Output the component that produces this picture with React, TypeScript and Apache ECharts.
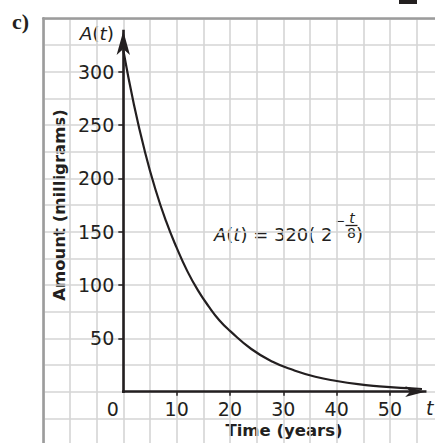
import React, { useEffect, useRef } from 'react';
import * as echarts from 'echarts';

// Decay of a 320 mg sample, half-life 8 years
const years = [0, 2, 4, 6, 8, 10, 12, 14, 16, 18, 20, 24, 28, 32, 36, 40, 44, 48, 52, 56];
const amounts = [320, 269, 226, 190, 160, 135, 113, 95, 80, 67, 57, 40, 28, 20, 14, 10, 7, 5, 3.5, 2.5];

const timeLabels = [0, 10, 20, 30, 40, 50];
const timeTickMarks = [10, 20, 30, 40, 50];
const amountLabels = [50, 100, 150, 200, 250, 300];

// axis arrow end points (data units)
const timeAxisEnd = 56.6;
const amountAxisEnd = 338;

const INK = '#231f20';
const FONT = '"DejaVu Sans", sans-serif';
const GRID_LINE = '#d5d5d5';
const BORDER = '#9c9c9c';

// plot area: t from -15 to 60, A from -50 to 350
const GRID_LEFT = 43.3;
const GRID_TOP = 18.3;
const GRID_RIGHT = -8.3;
const GRID_BOTTOM = -2;
const PLOT_W = 435 - GRID_LEFT - GRID_RIGHT;
const PLOT_H = 443 - GRID_TOP - GRID_BOTTOM;
const T_MIN = -15;
const T_MAX = 60;
const A_MIN = -50;
const A_MAX = 350;
// shift the labelled axes from the plot edges onto the origin
const xAxisShift = -(PLOT_H * (0 - A_MIN)) / (A_MAX - A_MIN);
const yAxisShift = -(PLOT_W * (0 - T_MIN)) / (T_MAX - T_MIN);

export default function App() {
  const ref = useRef<HTMLDivElement>(null);

  useEffect(() => {
    const chart = echarts.init(ref.current!, null, { renderer: 'svg' });
    const option: any = {
      animation: false,
      backgroundColor: '#ffffff',
      grid: {
        left: GRID_LEFT,
        top: GRID_TOP,
        right: GRID_RIGHT,
        bottom: GRID_BOTTOM,
        containLabel: false,
        outerBoundsMode: 'none',
      },
      xAxis: [
        {
          type: 'value',
          position: 'top',
          min: T_MIN,
          max: T_MAX,
          interval: 5,
          axisLine: { show: true, onZero: false, lineStyle: { color: BORDER, width: 2.6 } },
          axisTick: { show: false },
          axisLabel: { show: false },
          splitLine: { show: true, lineStyle: { color: GRID_LINE, width: 1.6 } },
        },
        {
          type: 'value',
          position: 'bottom',
          offset: xAxisShift,
          min: T_MIN,
          max: T_MAX,
          // the visible axis is drawn by the arrow markLine; this one only carries ticks and labels
          axisLine: { show: false, onZero: false },
          axisTick: {
            show: true,
            customValues: timeTickMarks,
            length: 4,
            lineStyle: { color: INK, width: 1.5 },
          },
          axisLabel: {
            show: true,
            customValues: timeLabels,
            margin: 8,
            color: INK,
            fontFamily: FONT,
            fontSize: 19,
            formatter: (v: number) => (v === 0 ? '{o|0}' : String(v)),
            rich: { o: { padding: [0, 21, 0, 0], fontFamily: FONT, fontSize: 19, color: INK } },
          },
          splitLine: { show: false },
        },
      ],
      yAxis: [
        {
          type: 'value',
          position: 'left',
          min: A_MIN,
          max: A_MAX,
          interval: 25,
          axisLine: { show: true, onZero: false, lineStyle: { color: BORDER, width: 2.6 } },
          axisTick: { show: false },
          axisLabel: { show: false },
          splitLine: { show: true, lineStyle: { color: GRID_LINE, width: 1.6 } },
        },
        {
          type: 'value',
          position: 'left',
          offset: yAxisShift,
          min: A_MIN,
          max: A_MAX,
          axisLine: { show: false, onZero: false },
          axisTick: {
            show: true,
            customValues: amountLabels,
            length: 5,
            lineStyle: { color: INK, width: 1.5 },
          },
          axisLabel: {
            show: true,
            customValues: amountLabels,
            margin: 9,
            color: INK,
            fontFamily: FONT,
            fontSize: 19,
          },
          splitLine: { show: false },
        },
      ],
      series: [
        {
          type: 'line',
          xAxisIndex: 1,
          yAxisIndex: 1,
          data: years.map((t, i) => [t, amounts[i]]),
          smooth: 0.5,
          showSymbol: false,
          symbol: 'none',
          silent: true,
          lineStyle: { color: INK, width: 2.2 },
          markLine: {
            silent: true,
            animation: false,
            symbol: ['none', 'arrow'],
            label: { show: false },
            emphasis: { disabled: true },
            lineStyle: { color: INK, width: 2.6, type: 'solid', cap: 'square' },
            data: [
              [
                { coord: [0, 0], symbol: 'none' },
                { coord: [timeAxisEnd, 0], symbol: 'arrow', symbolSize: [8, 20] },
              ],
              [
                { coord: [0, 0], symbol: 'none' },
                { coord: [0, amountAxisEnd], symbol: 'arrow', symbolSize: [10, 24] },
              ],
            ],
          },
        },
      ],
      graphic: [
        {
          type: 'text',
          x: 12,
          y: 21.5,
          style: {
            text: 'c)',
            fontFamily: '"Liberation Serif", serif',
            fontWeight: 'bold',
            fontSize: 22,
            fill: INK,
            align: 'left',
            verticalAlign: 'middle',
          },
        },
        {
          type: 'text',
          x: 114,
          y: 33.5,
          style: {
            text: '{i|A}({i|t})',
            rich: { i: { fontStyle: 'italic', fontFamily: FONT, fontSize: 18.5, fill: INK } },
            fontFamily: FONT,
            fontSize: 18.5,
            fill: INK,
            align: 'right',
            verticalAlign: 'middle',
          },
        },
        {
          type: 'text',
          x: 426,
          y: 408,
          style: {
            text: 't',
            fontFamily: FONT,
            fontStyle: 'italic',
            fontSize: 19,
            fill: INK,
            align: 'left',
            verticalAlign: 'middle',
          },
        },
        {
          type: 'text',
          x: 284,
          y: 430.5,
          style: {
            text: 'Time (years)',
            fontFamily: FONT,
            fontWeight: 'bold',
            fontSize: 16.5,
            fill: INK,
            align: 'center',
            verticalAlign: 'middle',
          },
        },
        {
          type: 'text',
          x: 59,
          y: 205,
          rotation: Math.PI / 2,
          style: {
            text: 'Amount (milligrams)',
            fontFamily: FONT,
            fontWeight: 'bold',
            fontSize: 16.5,
            fill: INK,
            align: 'center',
            verticalAlign: 'middle',
          },
        },
        // equation A(t) = 320(2^(-t/8))
        {
          type: 'text',
          x: 214,
          y: 234,
          style: {
            text: '{i|A}({i|t}) = 320( 2',
            rich: { i: { fontStyle: 'italic', fontFamily: FONT, fontSize: 18, fill: INK } },
            fontFamily: FONT,
            fontSize: 18,
            fill: INK,
            align: 'left',
            verticalAlign: 'middle',
          },
        },
        {
          type: 'text',
          x: 340,
          y: 221,
          style: {
            text: '−',
            fontFamily: FONT,
            fontSize: 12,
            fill: INK,
            align: 'center',
            verticalAlign: 'middle',
          },
        },
        {
          type: 'line',
          shape: { x1: 345.5, y1: 225.5, x2: 357.5, y2: 225.5 },
          style: { stroke: INK, lineWidth: 1.3 },
        },
        {
          type: 'text',
          x: 352,
          y: 218,
          style: {
            text: 't',
            fontFamily: FONT,
            fontStyle: 'italic',
            fontSize: 14,
            fill: INK,
            align: 'center',
            verticalAlign: 'middle',
          },
        },
        {
          type: 'text',
          x: 351.5,
          y: 232.5,
          style: {
            text: '8',
            fontFamily: FONT,
            fontSize: 14,
            fill: INK,
            align: 'center',
            verticalAlign: 'middle',
          },
        },
        {
          type: 'text',
          x: 356,
          y: 234,
          style: {
            text: ')',
            fontFamily: FONT,
            fontSize: 18,
            fill: INK,
            align: 'left',
            verticalAlign: 'middle',
          },
        },
        {
          type: 'rect',
          shape: { x: 399, y: 0, width: 18, height: 4 },
          style: { fill: INK },
        },
      ],
    };
    chart.setOption(option);
    return () => chart.dispose();
  }, []);

  return (
    <div
      ref={ref}
      style={{ position: 'absolute', left: 0, top: 0, width: 435, height: 443, background: '#ffffff' }}
    />
  );
}
